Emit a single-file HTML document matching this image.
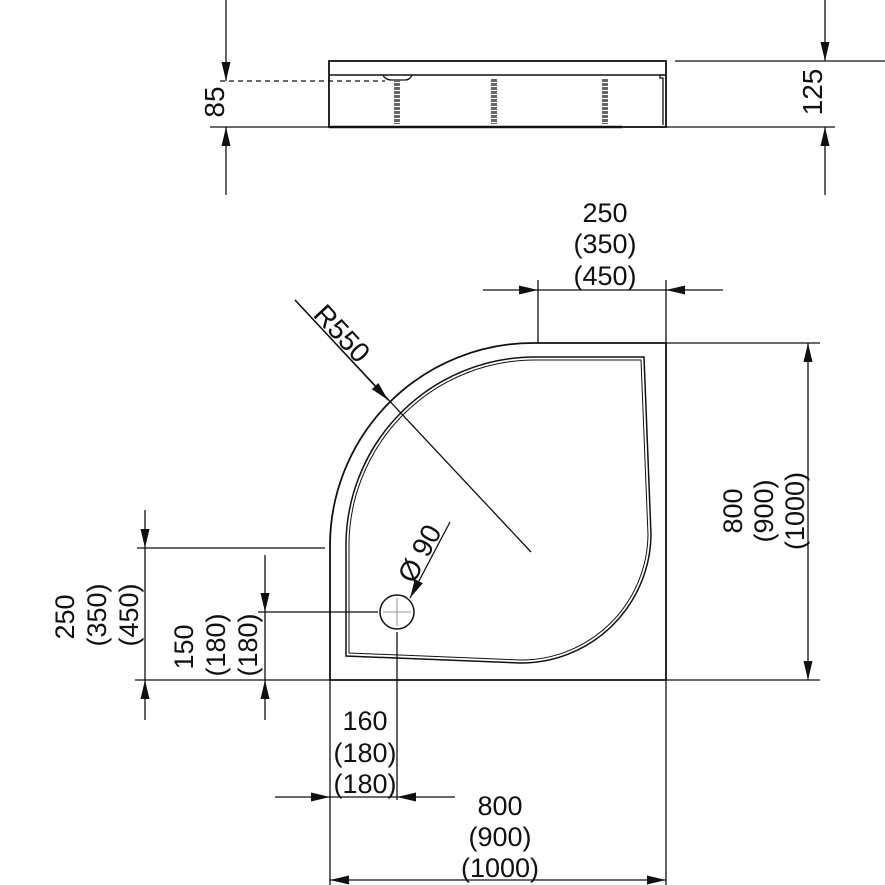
<!DOCTYPE html>
<html><head><style>body{margin:0;background:#fff}svg{display:block}text{font-family:"Liberation Sans",sans-serif;font-size:27px;fill:#111}</style></head>
<body>
<svg width="885" height="885" viewBox="0 0 885 885" xmlns="http://www.w3.org/2000/svg">
<defs>
<marker id="a" markerWidth="20" markerHeight="12" refX="19" refY="6" orient="auto" markerUnits="userSpaceOnUse"><path d="M0,1.5 L19,6 L0,10.5 Z" fill="#111"/></marker>
</defs>
<g stroke="#111" fill="none" stroke-width="1.3">
<rect x="329" y="61" width="337" height="66" stroke-width="1.8"/>
<line x1="329" y1="75" x2="666" y2="75" stroke-width="1.5"/>
<path d="M666,75 L660,75 L660,78 L663,78 L663,125" />
<line x1="329" y1="127" x2="622" y2="127" stroke-width="2.5"/>
<line x1="675" y1="61" x2="885" y2="61"/>
<line x1="666" y1="127" x2="835" y2="127"/>
<line x1="210" y1="127" x2="329" y2="127"/>
<line x1="220" y1="81" x2="385" y2="81" stroke-dasharray="5,4"/>
<path d="M383,75 Q385,80 392,80 L405,80 Q410,80 412,75"/>
<g stroke="#666" stroke-width="6" stroke-dasharray="3,1">
<line x1="397" y1="79" x2="397" y2="124"/><line x1="494" y1="79" x2="494" y2="124"/><line x1="605" y1="79" x2="605" y2="124"/>
</g>
<line x1="226" y1="0" x2="226" y2="81" marker-end="url(#a)"/>
<line x1="226" y1="195" x2="226" y2="127" marker-end="url(#a)"/>
<line x1="825" y1="0" x2="825" y2="61" marker-end="url(#a)"/>
<line x1="825" y1="195" x2="825" y2="127" marker-end="url(#a)"/>
<path d="M330,548 A203,203 0 0 1 533,343 L666,343 L666,680 L330,680 Z" stroke-width="1.8"/>
<path d="M346,656 L346,550 A189,189 0 0 1 535,357 L644,357 L651,535 A130,130 0 0 1 520,663 Z" stroke-width="1.5"/>
<path d="M349,653 L349,550 A186,186 0 0 1 535,360 L641,360 L648,535 A127,127 0 0 1 520,660 Z" stroke-width="1"/>
<circle cx="397" cy="612" r="17" stroke-width="1.5"/>
<line x1="397" y1="598" x2="397" y2="626" stroke="#aaa"/><line x1="383" y1="612" x2="411" y2="612" stroke="#aaa"/>
<line x1="295" y1="300" x2="531" y2="552"/>
<line x1="295" y1="300" x2="388" y2="400" marker-end="url(#a)"/>
<line x1="450" y1="522" x2="410" y2="598" marker-end="url(#a)"/>
<line x1="538" y1="280" x2="538" y2="343"/><line x1="666" y1="280" x2="666" y2="343"/>
<line x1="483" y1="290" x2="538" y2="290" marker-end="url(#a)"/>
<line x1="723" y1="290" x2="666" y2="290" marker-end="url(#a)"/>
<line x1="538" y1="290" x2="666" y2="290"/>
<line x1="666" y1="343" x2="820" y2="343"/><line x1="666" y1="680" x2="820" y2="680"/>
<line x1="808" y1="511" x2="808" y2="343" marker-end="url(#a)"/>
<line x1="808" y1="511" x2="808" y2="680" marker-end="url(#a)"/>
<line x1="330" y1="680" x2="330" y2="885"/><line x1="666" y1="680" x2="666" y2="885"/>
<line x1="498" y1="880" x2="330" y2="880" marker-end="url(#a)"/>
<line x1="498" y1="880" x2="666" y2="880" marker-end="url(#a)"/>
<line x1="397" y1="632" x2="397" y2="800"/>
<line x1="275" y1="797" x2="330" y2="797" marker-end="url(#a)"/>
<line x1="455" y1="797" x2="397" y2="797" marker-end="url(#a)"/>
<line x1="330" y1="797" x2="397" y2="797"/>
<line x1="137" y1="548" x2="325" y2="548"/><line x1="135" y1="680" x2="330" y2="680"/>
<line x1="145" y1="510" x2="145" y2="548" marker-end="url(#a)"/>
<line x1="145" y1="720" x2="145" y2="680" marker-end="url(#a)"/>
<line x1="145" y1="548" x2="145" y2="680"/>
<line x1="258" y1="612" x2="378" y2="612"/>
<line x1="265" y1="555" x2="265" y2="612" marker-end="url(#a)"/>
<line x1="265" y1="720" x2="265" y2="680" marker-end="url(#a)"/>
<line x1="265" y1="612" x2="265" y2="680"/>
</g>
<g text-anchor="middle">
<text transform="translate(224,102) rotate(-90)" style="font-size:28px">85</text>
<text transform="translate(822,92) rotate(-90)" style="font-size:28px">125</text>
<text x="605" y="222">250</text><text x="605" y="253">(350)</text><text x="605" y="285">(450)</text>
<text x="500" y="815">800</text><text x="500" y="846">(900)</text><text x="500" y="877">(1000)</text>
<text x="365" y="730">160</text><text x="365" y="762">(180)</text><text x="365" y="793">(180)</text>
<text transform="translate(74,617) rotate(-90)">250</text>
<text transform="translate(106,615) rotate(-90)">(350)</text>
<text transform="translate(138,615) rotate(-90)">(450)</text>
<text transform="translate(193,647) rotate(-90)">150</text>
<text transform="translate(225,645) rotate(-90)">(180)</text>
<text transform="translate(257,645) rotate(-90)">(180)</text>
<text transform="translate(742,511) rotate(-90)">800</text>
<text transform="translate(773,511) rotate(-90)">(900)</text>
<text transform="translate(804,511) rotate(-90)">(1000)</text>
<text transform="translate(335,340) rotate(47)" style="font-size:28px">R550</text>
<text transform="translate(428,558) rotate(-62)" style="font-size:28px">Ø 90</text>
</g>
</svg>
</body></html>
